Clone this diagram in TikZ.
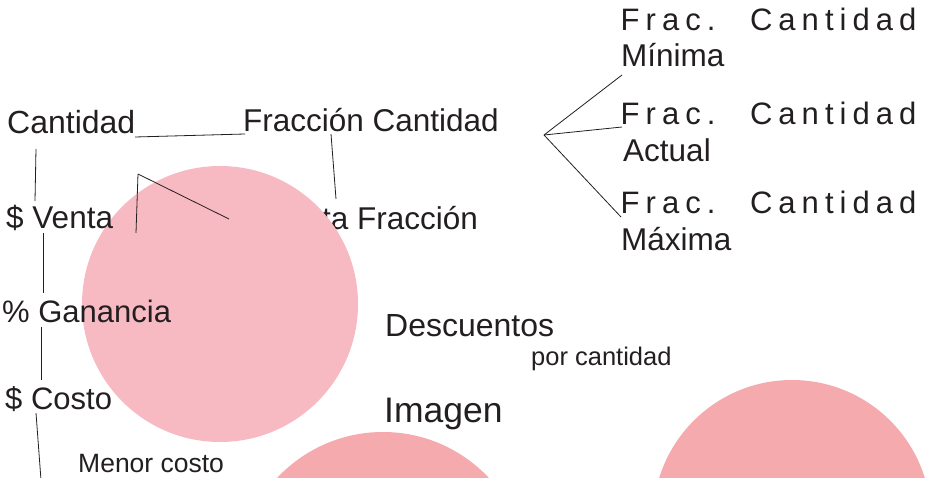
\documentclass[tikz,border=0pt]{standalone}
\usepackage{fontspec}
\setmainfont{Liberation Sans}
\newfontfamily\trackfont[LetterSpace=19.5]{Liberation Sans}
\definecolor{ink}{HTML}{231F20}
\definecolor{bubpink}{HTML}{F7BAC3}
\definecolor{bubrose}{HTML}{F5AAAE}
\begin{document}
\begin{tikzpicture}[x=1pt,y=-1pt,
  lbl/.style={inner sep=0, anchor=base west, text=ink, font=\fontsize{31.5}{36}\selectfont},
  small/.style={lbl, font=\fontsize{26.5}{30}\selectfont},
  fraclbl/.style={lbl, font=\fontsize{31}{36}\selectfont\trackfont},
  sublbl/.style={lbl, font=\fontsize{31.5}{36}\selectfont},
  bub/.style={circle, inner sep=0, fill=#1},
  wire/.style={draw=ink, line width=0.8pt}]
\path[use as bounding box, clip] (0,0) rectangle (929,478);
\node[lbl] (vfrac) at (322,230){ta Fracción};
\node[bub=bubpink, minimum size=276pt] (bub1) at (220,304){};
\node[bub=bubrose, minimum size=290pt] (bub2) at (383,577){};
\node[bub=bubrose, minimum size=278pt] (bub3) at (792,519){};
\node[lbl, font=\fontsize{32}{36}\selectfont] (cant) at (7,134){Cantidad};
\node[lbl] (fcant) at (243,132){Fracción Cantidad};
\node[lbl] (venta) at (6,229){\$ Venta};
\node[lbl, font=\fontsize{31}{36}\selectfont] (gan) at (2,323){\% Ganancia};
\node[lbl, font=\fontsize{31}{36}\selectfont] (costo) at (5,409){\$ Costo};
\node[small] (menor) at (78,472){Menor costo};
\node[lbl, font=\fontsize{32}{36}\selectfont] (desc) at (385,337){Descuentos};
\node[small, font=\fontsize{25.5}{30}\selectfont] (porcant) at (531,365){por cantidad};
\node[lbl, font=\fontsize{35.5}{40}\selectfont] (imagen) at (384,422){Imagen};
\node[fraclbl] (fmin) at (620.5,31){Frac.\hspace{15pt} Cantidad};
\node[sublbl] (minima) at (621,67){Mínima};
\node[fraclbl] (fact) at (620.5,125){Frac.\hspace{15pt} Cantidad};
\node[sublbl] (actual) at (623,162){Actual};
\node[fraclbl] (fmax) at (620.5,214){Frac.\hspace{15pt} Cantidad};
\node[sublbl] (maxima) at (621,251){Máxima};
\coordinate (cant-e) at (135,137);
\coordinate (fcant-w) at (245,134);
\coordinate (cant-s) at (36,149);
\coordinate (venta-n) at (35,201);
\coordinate (fcant-s) at (331,134);
\coordinate (vfrac-n) at (336,199);
\coordinate (fork) at (138,174);
\coordinate (fork-a) at (136,233);
\coordinate (fork-b) at (229,219);
\coordinate (venta-s) at (43,233);
\coordinate (gan-n) at (43,293);
\coordinate (gan-s) at (41,327);
\coordinate (costo-n) at (41,380);
\coordinate (costo-s) at (36,413);
\coordinate (costo-x) at (41,480);
\coordinate (fan) at (544,135);
\coordinate (fmin-w) at (622,75);
\coordinate (fact-w) at (622,127);
\coordinate (fmax-w) at (621,217);
\draw[wire](cant-e) -- (fcant-w);
\draw[wire](cant-s) -- (venta-n);
\draw[wire](fcant-s) -- (vfrac-n);
\draw[wire](fork) -- (fork-a);
\draw[wire](fork) -- (fork-b);
\draw[wire](venta-s) -- (gan-n);
\draw[wire](gan-s) -- (costo-n);
\draw[wire](costo-s) -- (costo-x);
\draw[wire](fan) -- (fmin-w);
\draw[wire](fan) -- (fact-w);
\draw[wire](fan) -- (fmax-w);
\end{tikzpicture}
\end{document}
